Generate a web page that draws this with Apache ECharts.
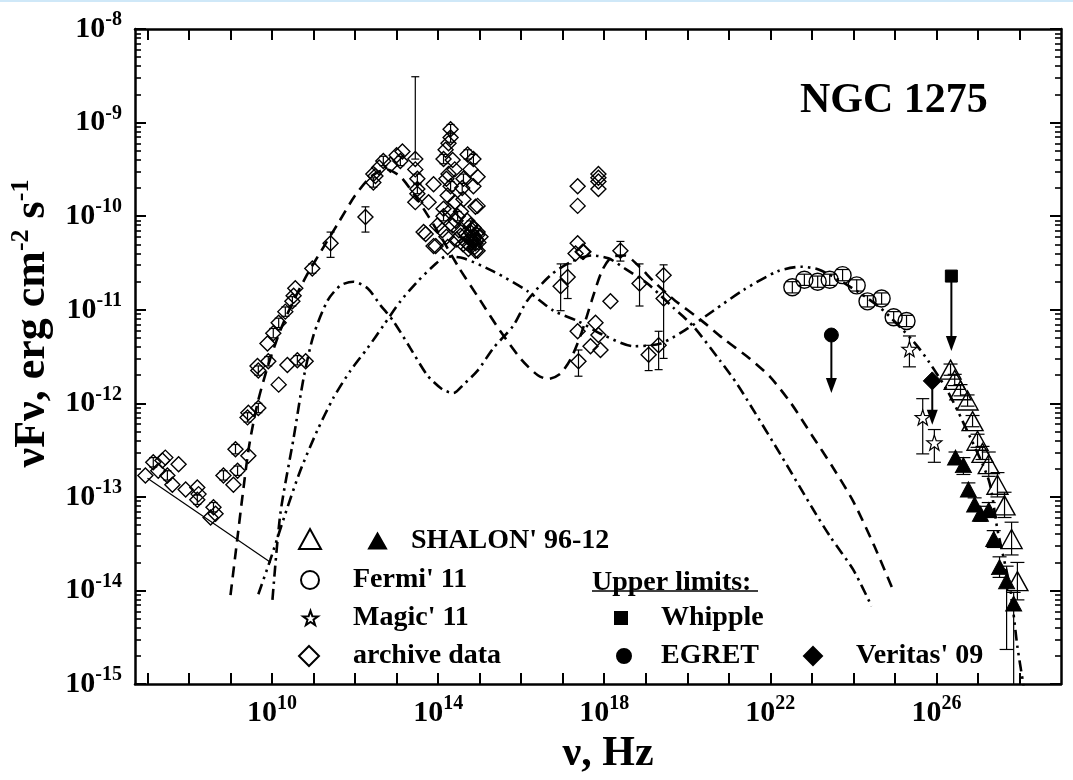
<!DOCTYPE html>
<html>
<head>
<meta charset="utf-8">
<title>NGC 1275</title>
<script src="https://cdn.jsdelivr.net/npm/echarts@6.0.0/dist/echarts.min.js"></script>
<style>
  html, body { margin: 0; padding: 0; background: #fff; }
  #chart { width: 1073px; height: 780px; }
</style>
</head>
<body>
<div id="chart"></div>
<script>
// all values are log10: [log nu (Hz), log nuFnu (erg cm-2 s-1)]
const xTickExps = [7, 8, 9, 10, 11, 12, 13, 14, 15, 16, 17, 18, 19, 20, 21, 22, 23, 24, 25, 26, 27, 28];
const xLabelExps = [10, 14, 18, 22, 26];
const yLabelExps = [-15, -14, -13, -12, -11, -10, -9, -8];

// model curves
const modelDashed = [[9.00,-14.05],[9.15,-13.50],[9.30,-12.95],[9.45,-12.45],[9.65,-12.00],[9.90,-11.60],[10.2,-11.22],[10.5,-10.92],[10.85,-10.62],[11.2,-10.36],[11.6,-10.07],[12.0,-9.78],[12.4,-9.57],[12.75,-9.50],[13.1,-9.58],[13.5,-9.82],[14.0,-10.17],[14.5,-10.55],[15.0,-10.89],[15.5,-11.23],[16.0,-11.53],[16.4,-11.70],[16.65,-11.74],[16.95,-11.68],[17.2,-11.52],[17.45,-11.25],[17.7,-10.90],[17.95,-10.58],[18.2,-10.43],[18.5,-10.42],[18.8,-10.52],[19.2,-10.70],[19.7,-10.90],[20.3,-11.10],[20.9,-11.32],[21.5,-11.52],[22.0,-11.72],[22.5,-12.00],[23.0,-12.34],[23.5,-12.68],[24.0,-13.05],[24.5,-13.52],[24.97,-14.01]];
const modelDashDot = [[10.01,-14.10],[10.2,-13.18],[10.52,-12.37],[10.76,-11.73],[11.0,-11.27],[11.34,-10.90],[11.65,-10.74],[11.96,-10.70],[12.30,-10.77],[12.61,-10.95],[12.92,-11.12],[13.33,-11.41],[13.74,-11.70],[14.1,-11.85],[14.37,-11.89],[14.61,-11.80],[14.95,-11.65],[15.33,-11.41],[15.81,-11.17],[16.15,-10.90],[16.71,-10.63],[17.19,-10.49],[17.7,-10.42],[18.1,-10.45],[18.5,-10.56],[19.04,-10.72],[19.67,-10.98],[20.15,-11.18],[20.80,-11.55],[21.21,-11.80],[21.52,-12.02],[22.25,-12.55],[23.04,-13.14],[23.45,-13.43],[24.0,-13.78],[24.44,-14.17]];
const modelDashDotDot = [[9.67,-14.04],[9.96,-13.67],[10.32,-13.18],[10.68,-12.72],[11.09,-12.29],[11.48,-11.94],[11.89,-11.65],[12.30,-11.41],[12.68,-11.17],[13.09,-10.91],[13.50,-10.70],[13.89,-10.53],[14.2,-10.43],[14.61,-10.45],[15.33,-10.59],[16.15,-10.80],[16.78,-11.01],[17.36,-11.12],[17.98,-11.27],[18.71,-11.39],[19.36,-11.36],[20.01,-11.20],[20.63,-11.01],[21.35,-10.79],[22.17,-10.59],[22.73,-10.54],[23.16,-10.57],[23.8,-10.72],[24.65,-10.98],[25.45,-11.34],[25.81,-11.55],[26.27,-11.87],[26.63,-12.19],[27.26,-12.82],[27.47,-13.35],[27.78,-13.99],[27.95,-14.60],[28.10,-15.02]];
const radioFit = [[7.0,-12.80],[9.97,-13.70]];

// archive data
const archive = [
  [6.95,-12.77],[7.14,-12.63],[7.26,-12.72],[7.36,-12.61],[7.43,-12.58],[7.48,-12.77],[7.60,-12.87],[7.75,-12.65],[7.92,-12.92],[8.20,-12.90],[8.23,-12.97],[8.20,-13.03],[8.52,-13.22],[8.59,-13.11],[8.64,-13.18],
  [8.83,-12.77],[9.07,-12.87],[9.17,-12.72],[9.12,-12.49],[9.43,-12.56],[9.41,-12.15],[9.43,-12.10],[9.67,-12.05],[10.16,-11.80],[9.67,-11.65],[9.65,-11.60],[9.91,-11.55],[9.89,-11.36],[10.03,-11.25],[10.16,-11.14],[10.32,-11.02],[10.49,-10.91],[10.52,-10.85],[10.56,-10.77],[10.37,-11.59],[10.61,-11.54],[10.81,-11.55],[10.97,-10.56],[11.41,-10.29],
  [12.25,-10.01],[12.44,-9.64],[12.44,-9.55],[12.49,-9.57],[12.68,-9.41],[12.58,-9.48],[13.14,-9.31],[13.09,-9.41],[13.0,-9.35],[12.85,-9.45],
  [13.45,-9.39],[13.45,-9.50],[13.50,-9.60],[13.50,-9.71],[13.50,-9.76],[13.45,-9.85],
  [13.89,-9.66],[13.77,-9.85],[14.30,-9.07],[14.30,-9.16],[14.25,-9.22],[14.18,-9.29],[14.13,-9.39],[14.71,-9.34],[14.85,-9.39],[14.78,-9.50],[14.95,-9.58],[14.61,-9.60],[14.85,-9.68],[14.95,-9.89],[14.61,-9.82],[14.23,-9.78],[14.13,-9.92],[13.98,-10.10],[13.65,-10.17],[13.89,-10.32],[14.23,-10.33],[14.54,-10.21],[14.85,-10.24],[14.95,-10.37],[14.78,-10.10],[14.47,-10.00],[14.30,-9.68],[14.13,-10.00],[14.90,-9.90],[14.95,-10.17],[13.70,-10.19],[13.94,-10.32],[14.90,-10.37],[14.66,-10.19],[14.78,-10.24],[14.90,-10.29],[14.73,-10.35],[15.02,-10.22],[14.40,-9.50],[14.40,-9.85],[14.35,-10.10],[14.55,-9.95],[14.25,-9.55],[14.70,-10.05],[14.85,-10.12],[14.60,-10.30],[14.45,-10.25],[14.20,-10.22],
  [14.80,-10.18],[14.86,-10.21],[14.92,-10.25],[14.83,-10.27],[14.76,-10.31],[14.88,-10.33],[14.97,-10.28],[14.70,-10.22],[14.82,-10.15],[14.94,-10.20],[14.68,-10.28],[14.35,-9.40],[14.28,-9.95],[14.42,-10.05],[14.58,-9.70],[14.20,-9.60],[14.10,-10.15],[14.50,-10.15],
  [17.36,-9.68],[17.36,-9.89],[17.86,-9.55],[17.86,-9.59],[17.86,-9.63],[17.86,-9.71],[17.36,-10.29],[18.39,-10.37],[17.48,-10.38],[17.31,-10.40],[17.50,-10.38],[17.12,-10.65],[16.95,-10.75],[18.85,-10.72],[19.43,-10.63],[19.43,-10.88],[18.15,-10.91],[17.79,-11.14],[17.36,-11.23],[17.86,-11.27],[17.91,-11.43],[17.67,-11.39],[17.38,-11.55],[19.07,-11.48],[19.31,-11.38]
];
// [log nu, low, high]
const archiveErr = [
  [7.14,-12.68,-12.58],[7.48,-12.82,-12.72],[8.20,-13.08,-12.98],[8.59,-13.16,-13.06],[8.83,-12.82,-12.72],[9.12,-12.54,-12.44],[9.17,-12.77,-12.67],[9.41,-12.20,-12.10],[9.67,-12.10,-12.00],[9.67,-11.70,-11.60],[9.91,-11.60,-11.50],[10.03,-11.30,-11.20],[10.16,-11.19,-11.09],[10.32,-11.07,-10.97],[10.49,-10.96,-10.86],[10.61,-11.59,-11.49],[10.97,-10.61,-10.51],
  [11.41,-10.44,-10.17],[12.25,-10.17,-9.90],[12.44,-9.69,-9.59],[12.68,-9.46,-9.36],[13.09,-9.46,-9.36],[13.45,-9.39,-8.51],[13.50,-9.65,-9.55],[13.50,-9.76,-9.66],
  [14.30,-9.21,-9.11],[14.30,-9.12,-9.02],[14.13,-9.44,-9.34],[14.71,-9.39,-9.29],[14.13,-10.05,-9.95],[14.47,-10.05,-9.95],[14.30,-9.73,-9.63],[14.85,-9.44,-9.34],[14.61,-9.65,-9.55],[14.78,-10.15,-10.05],
  [14.86,-10.26,-10.16],[14.76,-10.36,-10.26],[14.92,-10.30,-10.20],[14.58,-9.75,-9.65],
  [18.39,-10.48,-10.27],[17.12,-10.88,-10.51],[16.95,-11.01,-10.51],[18.85,-10.96,-10.51],[19.43,-11.52,-10.52],[17.38,-11.71,-11.43],[19.07,-11.65,-11.38],[19.31,-11.64,-11.23]
];

const fermi = [[22.53,-10.76],[22.82,-10.68],[23.14,-10.70],[23.43,-10.68],[23.74,-10.63],[24.08,-10.74],[24.34,-10.91],[24.68,-10.88],[24.97,-11.08],[25.28,-11.12]];
const fermiErr = [[22.53,-10.82,-10.70],[22.82,-10.74,-10.62],[23.14,-10.76,-10.64],[23.43,-10.74,-10.62],[23.74,-10.69,-10.57],[24.08,-10.80,-10.68],[24.34,-10.97,-10.85],[24.68,-10.94,-10.82],[24.97,-11.14,-11.02],[25.28,-11.18,-11.06]];

const magic = [[25.35,-11.42],[25.67,-12.15],[25.95,-12.42]];
const magicErr = [[25.35,-11.61,-11.28],[25.67,-12.54,-11.95],[25.95,-12.63,-12.28]];

const shalonOpen = [[26.34,-11.64],[26.44,-11.75],[26.58,-11.86],[26.75,-11.97],[26.87,-12.19],[26.99,-12.40],[27.11,-12.53],[27.26,-12.65],[27.47,-12.87],[27.64,-13.09],[27.81,-13.45],[27.95,-13.90]];
const shalonOpenErr = [[26.34,-11.70,-11.58],[26.44,-11.81,-11.69],[26.58,-11.92,-11.80],[26.75,-12.03,-11.91],[26.87,-12.25,-12.13],[26.99,-12.47,-12.33],[27.11,-12.60,-12.46],[27.26,-12.78,-12.52],[27.47,-13.00,-12.74],[27.64,-13.22,-12.95],[27.81,-13.62,-13.27],[27.95,-14.10,-13.70]];
const shalonFilled = [[26.46,-12.58],[26.65,-12.66],[26.77,-12.92],[26.92,-13.08],[27.06,-13.18],[27.26,-13.14],[27.38,-13.45],[27.52,-13.75],[27.69,-13.90],[27.86,-14.14]];
const shalonFilledErr = [[26.46,-12.64,-12.52],[26.65,-12.76,-12.58],[26.77,-12.99,-12.85],[26.92,-13.15,-13.01],[27.06,-13.26,-13.10],[27.26,-13.22,-13.06],[27.38,-13.54,-13.36],[27.52,-13.86,-13.64],[27.69,-14.63,-13.74],[27.86,-15.6,-14.02]];

// upper limits: [log nu, log flux, arrow tip]
const whipple = [26.36, -10.64, -11.44];
const egret = [23.47, -11.27, -11.89];
const veritas = [25.90, -11.76, -12.23];

const FONT = "Liberation Serif";
const STAR = "path://M0,-10L2.35,-3.24L9.51,-3.09L3.8,1.24L5.88,8.09L0,4L-5.88,8.09L-3.8,1.24L-9.51,-3.09L-2.35,-3.24Z";

const yMinorTicks = [];
for (let n = -15; n < -8; n++) {
  for (let k = 2; k <= 9; k++) yMinorTicks.push(n + Math.log10(k));
}

const chart = echarts.init(document.getElementById("chart"));

const powLabel = function (v) {
  return "{b|10}{s|" + v + "}";
};
const labelRich = {
  b: { fontFamily: FONT, fontWeight: "bold", fontSize: 30, lineHeight: 38, color: "#000" },
  s: { fontFamily: FONT, fontWeight: "bold", fontSize: 20, lineHeight: 20, verticalAlign: "top", color: "#000" },
};
const frameLine = { show: true, onZero: false, lineStyle: { color: "#000", width: 2.5 } };

// error bars drawn through the axes
function errorBars(data, cap, width) {
  return {
    type: "custom",
    silent: true,
    clip: true,
    z: 3,
    encode: { x: 0, y: [1, 2] },
    data: data,
    renderItem: function (params, api) {
      const lo = api.coord([api.value(0), api.value(1)]);
      const hi = api.coord([api.value(0), api.value(2)]);
      const c = cap / 2;
      const st = { stroke: "#000", lineWidth: width || 1.2 };
      return {
        type: "group",
        children: [
          { type: "line", shape: { x1: lo[0], y1: lo[1], x2: hi[0], y2: hi[1] }, style: st },
          { type: "line", shape: { x1: lo[0] - c, y1: lo[1], x2: lo[0] + c, y2: lo[1] }, style: st },
          { type: "line", shape: { x1: hi[0] - c, y1: hi[1], x2: hi[0] + c, y2: hi[1] }, style: st },
        ],
      };
    },
  };
}

function limitArrows(data) {
  return {
    type: "custom",
    silent: true,
    z: 3,
    encode: { x: 0, y: [1, 2] },
    data: data,
    renderItem: function (params, api) {
      const p1 = api.coord([api.value(0), api.value(1)]);
      const p2 = api.coord([api.value(0), api.value(2)]);
      return {
        type: "group",
        children: [
          { type: "line", shape: { x1: p1[0], y1: p1[1], x2: p2[0], y2: p2[1] - 12 }, style: { stroke: "#000", lineWidth: 2 } },
          { type: "polygon", shape: { points: [[p2[0] - 5.5, p2[1] - 15], [p2[0] + 5.5, p2[1] - 15], [p2[0], p2[1]]] }, style: { fill: "#000" } },
        ],
      };
    },
  };
}

function curve(data, dash) {
  return {
    type: "line",
    data: data,
    showSymbol: false,
    silent: true,
    smooth: 0.25,
    z: 1,
    lineStyle: { color: "#000", width: 2.6, type: dash },
  };
}

const openStyle = { color: "rgba(0,0,0,0)", borderColor: "#000", borderWidth: 1.4, opacity: 1 };
const filledStyle = { color: "#000", borderColor: "#000", borderWidth: 1, opacity: 1 };

const legendItems = [
  { name: "SHALON open", left: 298, top: 528, w: 22, h: 20, pad: 0 },
  { name: "SHALON' 96-12", left: 368, top: 527, w: 17, h: 15, pad: 20 },
  { name: "Fermi' 11", left: 300, top: 566, w: 18, h: 18, pad: 29 },
  { name: "Magic' 11", left: 302, top: 604, w: 15, h: 15, pad: 30 },
  { name: "archive data", left: 298, top: 642, w: 20, h: 20, pad: 29 },
  { name: "Whipple", left: 614, top: 604, w: 12, h: 12, pad: 29 },
  { name: "EGRET", left: 616, top: 642, w: 14, h: 14, pad: 25 },
  { name: "Veritas' 09", left: 803, top: 642, w: 18, h: 18, pad: 29 },
];

const option = {
  animation: false,
  backgroundColor: "#fff",
  title: {
    text: "NGC 1275",
    left: 800,
    top: 80,
    padding: 0,
    textStyle: { fontFamily: FONT, fontWeight: "bold", fontSize: 42, color: "#000" },
  },
  grid: { left: 135, right: 12, top: 29, bottom: 92 },
  xAxis: [
    {
      type: "value",
      min: 6.7,
      max: 29,
      position: "bottom",
      name: "ν, Hz",
      nameLocation: "middle",
      nameGap: 42,
      nameTextStyle: { fontFamily: FONT, fontWeight: "bold", fontSize: 42, color: "#000", padding: [0, 0, 0, 20] },
      axisLine: frameLine,
      axisTick: { inside: true, length: 11, lineStyle: { color: "#000", width: 2 }, customValues: xTickExps },
      axisLabel: { customValues: xLabelExps, formatter: powLabel, rich: labelRich, margin: 10 },
      splitLine: { show: false },
    },
    {
      type: "value",
      min: 6.7,
      max: 29,
      position: "top",
      axisLine: frameLine,
      axisTick: { inside: true, length: 11, lineStyle: { color: "#000", width: 2 }, customValues: xTickExps },
      axisLabel: { show: false },
      splitLine: { show: false },
    },
  ],
  yAxis: [
    {
      type: "value",
      min: -15,
      max: -8,
      interval: 1,
      position: "left",
      name: "{a|νFν, erg cm}{s|-2}{a| s}{s|-1}",
      nameLocation: "middle",
      nameRotate: 90,
      nameGap: 74,
      nameTextStyle: {
        padding: [0, 0, 0, 66],
        rich: {
          a: { fontFamily: FONT, fontWeight: "bold", fontSize: 44, lineHeight: 48, color: "#000" },
          s: { fontFamily: FONT, fontWeight: "bold", fontSize: 26, lineHeight: 26, verticalAlign: "top", color: "#000" },
        },
      },
      axisLine: frameLine,
      axisTick: { inside: true, length: 11, lineStyle: { color: "#000", width: 2 } },
      axisLabel: { formatter: powLabel, rich: labelRich, margin: 13, customValues: yLabelExps },
      splitLine: { show: false },
    },
    {
      type: "value",
      min: -15,
      max: -8,
      position: "left",
      axisLine: { show: false },
      axisTick: { inside: true, length: 6, lineStyle: { color: "#000", width: 1.6 }, customValues: yMinorTicks },
      axisLabel: { show: false },
      splitLine: { show: false },
    },
    {
      type: "value",
      min: -15,
      max: -8,
      interval: 1,
      position: "right",
      axisLine: frameLine,
      axisTick: { inside: true, length: 11, lineStyle: { color: "#000", width: 2 } },
      axisLabel: { show: false },
      splitLine: { show: false },
    },
    {
      type: "value",
      min: -15,
      max: -8,
      position: "right",
      axisLine: { show: false },
      axisTick: { inside: true, length: 6, lineStyle: { color: "#000", width: 1.6 }, customValues: yMinorTicks },
      axisLabel: { show: false },
      splitLine: { show: false },
    },
  ],
  legend: legendItems.map(function (it) {
    return {
      data: [it.name],
      left: it.left,
      top: it.top,
      padding: 0,
      itemWidth: it.w,
      itemHeight: it.h,
      formatter: function (n) {
        return n === "SHALON open" ? "" : n;
      },
      textStyle: { fontFamily: FONT, fontWeight: "bold", fontSize: 28, color: "#000", padding: [0, 0, 0, it.pad] },
    };
  }),
  graphic: [
    { type: "rect", left: 0, top: 0, shape: { width: 1073, height: 2 }, style: { fill: "#cfe8f8" } },
    { type: "text", left: 592, top: 569, style: { text: "Upper limits:", font: "bold 28px 'Liberation Serif'", fill: "#000" } },
    { type: "line", shape: { x1: 592, y1: 591, x2: 758, y2: 591 }, style: { stroke: "#000", lineWidth: 1.5 } },
  ],
  series: [
    curve(modelDashed, [11, 7]),
    curve(modelDashDot, [11, 5, 2.5, 5]),
    curve(modelDashDotDot, [11, 5, 2.5, 5, 2.5, 5]),
    {
      type: "line",
      data: radioFit,
      showSymbol: false,
      silent: true,
      z: 1,
      lineStyle: { color: "#000", width: 1.2 },
    },
    errorBars(archiveErr, 8),
    errorBars(fermiErr, 13),
    errorBars(magicErr, 13),
    errorBars(shalonOpenErr, 14),
    errorBars(shalonFilledErr, 14),
    { name: "archive data", type: "scatter", symbol: "diamond", symbolSize: 15, itemStyle: openStyle, data: archive, z: 4 },
    { name: "Fermi' 11", type: "scatter", symbol: "circle", symbolSize: 17, itemStyle: openStyle, data: fermi, z: 4 },
    { name: "Magic' 11", type: "scatter", symbol: STAR, symbolSize: 15, itemStyle: { color: "#fff", borderColor: "#000", borderWidth: 1.2, opacity: 1 }, data: magic, z: 4 },
    { name: "SHALON open", type: "scatter", symbol: "triangle", symbolSize: [21, 19], itemStyle: openStyle, data: shalonOpen, z: 4 },
    { name: "SHALON' 96-12", type: "scatter", symbol: "triangle", symbolSize: [16, 15], itemStyle: filledStyle, data: shalonFilled, z: 5 },
    limitArrows([whipple, egret, veritas]),
    { name: "Whipple", type: "scatter", symbol: "rect", symbolSize: 12, itemStyle: filledStyle, data: [[whipple[0], whipple[1]]], z: 5 },
    { name: "EGRET", type: "scatter", symbol: "circle", symbolSize: 14, itemStyle: filledStyle, data: [[egret[0], egret[1]]], z: 5 },
    { name: "Veritas' 09", type: "scatter", symbol: "diamond", symbolSize: 18, itemStyle: filledStyle, data: [[veritas[0], veritas[1]]], z: 5 },
  ],
};

chart.setOption(option);
window.addEventListener("resize", function () {
  chart.resize();
});
</script>
</body>
</html>
